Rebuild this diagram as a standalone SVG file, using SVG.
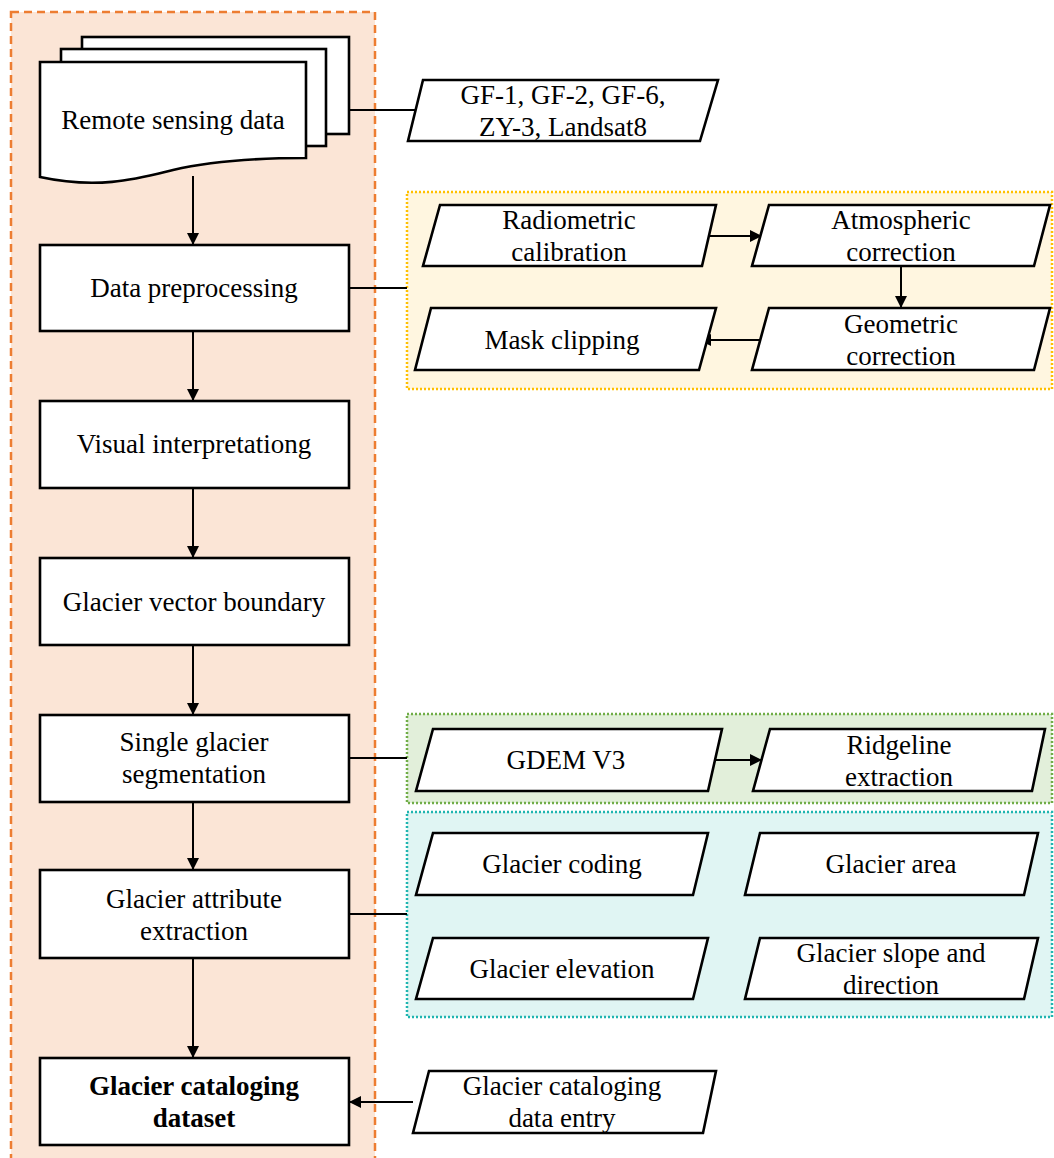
<svg xmlns="http://www.w3.org/2000/svg" width="1054" height="1158" viewBox="0 0 1054 1158">
<style>
.t{font-family:"Liberation Serif","Times New Roman",serif;font-size:27px;fill:#000;text-anchor:middle}
.b{font-weight:bold}
.box{fill:#fff;stroke:#000;stroke-width:2.6}
.ln{fill:none;stroke:#000;stroke-width:2}
</style>
<defs>
<marker id="ah" viewBox="0 0 10 10" refX="10" refY="5" markerWidth="6" markerHeight="6" orient="auto" markerUnits="strokeWidth">
<path d="M0,0 L10,5 L0,10 z" fill="#000"/>
</marker>
</defs>
<g id="containers">
<rect x="11" y="12" width="364" height="1160" fill="#FBE5D6" stroke="#ED7D31" stroke-width="2.5" stroke-dasharray="8,5"/>
<rect x="407" y="192" width="645" height="197" fill="#FFF6E0" stroke="#FFC000" stroke-width="2.5" stroke-dasharray="2,2"/>
<rect x="407" y="714" width="645" height="89" fill="#E2EFDA" stroke="#70AD47" stroke-width="2.5" stroke-dasharray="2,2"/>
<rect x="407" y="812" width="645" height="205" fill="#E0F5F3" stroke="#1FB5B0" stroke-width="2.5" stroke-dasharray="2,2"/>
</g>
<g id="connectors">
<line class="ln" x1="349" y1="110" x2="416" y2="110"/>
<line class="ln" x1="193" y1="176" x2="193" y2="245" marker-end="url(#ah)"/>
<line class="ln" x1="349" y1="288" x2="407" y2="288"/>
<line class="ln" x1="193" y1="331" x2="193" y2="401" marker-end="url(#ah)"/>
<line class="ln" x1="193" y1="488" x2="193" y2="558" marker-end="url(#ah)"/>
<line class="ln" x1="193" y1="645" x2="193" y2="715" marker-end="url(#ah)"/>
<line class="ln" x1="193" y1="802" x2="193" y2="870" marker-end="url(#ah)"/>
<line class="ln" x1="193" y1="958" x2="193" y2="1058" marker-end="url(#ah)"/>
<line class="ln" x1="349" y1="758" x2="407" y2="758"/>
<line class="ln" x1="349" y1="914" x2="407" y2="914"/>
<line class="ln" x1="707" y1="236" x2="762" y2="236" marker-end="url(#ah)"/>
<line class="ln" x1="901" y1="266" x2="901" y2="308" marker-end="url(#ah)"/>
<line class="ln" x1="760" y1="340" x2="699" y2="340" marker-end="url(#ah)"/>
<line class="ln" x1="715" y1="760" x2="762" y2="760" marker-end="url(#ah)"/>
<line class="ln" x1="413" y1="1102" x2="349" y2="1102" marker-end="url(#ah)"/>
</g>
<g id="remote-sensing-data">
<rect class="box" x="82" y="37" width="267" height="97"/>
<rect class="box" x="61" y="49" width="265" height="97"/>
<path class="box" d="M40,62 L306,62 L306,158 C260,158 215,160 173,170 C140,178 100,190 40,177 Z"/>
<text class="t" x="173" y="129">Remote sensing data</text>
</g>
<g id="gf-data">
<path class="box" d="M423,80 L718,80 L700,141 L408,141 Z"/>
<text class="t" x="563" y="104">GF-1, GF-2, GF-6,</text>
<text class="t" x="563" y="136">ZY-3, Landsat8</text>
</g>
<g id="data-preprocessing">
<rect class="box" x="40" y="245" width="309" height="86"/>
<text class="t" x="194" y="297">Data preprocessing</text>
</g>
<g id="visual-interpretationg">
<rect class="box" x="40" y="401" width="309" height="87"/>
<text class="t" x="194" y="453">Visual interpretationg</text>
</g>
<g id="glacier-vector-boundary">
<rect class="box" x="40" y="558" width="309" height="87"/>
<text class="t" x="194" y="611">Glacier vector boundary</text>
</g>
<g id="single-glacier-segmentation">
<rect class="box" x="40" y="715" width="309" height="87"/>
<text class="t" x="194" y="751">Single glacier</text>
<text class="t" x="194" y="783">segmentation</text>
</g>
<g id="glacier-attribute-extraction">
<rect class="box" x="40" y="870" width="309" height="88"/>
<text class="t" x="194" y="908">Glacier attribute</text>
<text class="t" x="194" y="940">extraction</text>
</g>
<g id="glacier-cataloging-dataset">
<rect class="box" x="40" y="1058" width="309" height="87"/>
<text class="t b" x="194" y="1095">Glacier cataloging</text>
<text class="t b" x="194" y="1127">dataset</text>
</g>
<g id="radiometric-calibration">
<path class="box" d="M440,205 L716,205 L702,266 L423,266 Z"/>
<text class="t" x="569" y="229">Radiometric</text>
<text class="t" x="569" y="261">calibration</text>
</g>
<g id="atmospheric-correction">
<path class="box" d="M769,205 L1050,205 L1034,266 L752,266 Z"/>
<text class="t" x="901" y="229">Atmospheric</text>
<text class="t" x="901" y="261">correction</text>
</g>
<g id="geometric-correction">
<path class="box" d="M769,308 L1050,308 L1034,370 L752,370 Z"/>
<text class="t" x="901" y="333">Geometric</text>
<text class="t" x="901" y="365">correction</text>
</g>
<g id="mask-clipping">
<path class="box" d="M431,308 L716,308 L699,370 L415,370 Z"/>
<text class="t" x="562" y="349">Mask clipping</text>
</g>
<g id="gdem-v3">
<path class="box" d="M433,729 L722,729 L708,791 L416,791 Z"/>
<text class="t" x="566" y="769">GDEM V3</text>
</g>
<g id="ridgeline-extraction">
<path class="box" d="M770,729 L1045,729 L1032,791 L753,791 Z"/>
<text class="t" x="899" y="754">Ridgeline</text>
<text class="t" x="899" y="786">extraction</text>
</g>
<g id="glacier-coding">
<path class="box" d="M433,833 L708,833 L693,895 L416,895 Z"/>
<text class="t" x="562" y="873">Glacier coding</text>
</g>
<g id="glacier-area">
<path class="box" d="M760,833 L1038,833 L1024,895 L745,895 Z"/>
<text class="t" x="891" y="873">Glacier area</text>
</g>
<g id="glacier-elevation">
<path class="box" d="M433,938 L708,938 L693,999 L416,999 Z"/>
<text class="t" x="562" y="978">Glacier elevation</text>
</g>
<g id="glacier-slope-direction">
<path class="box" d="M760,938 L1038,938 L1024,999 L745,999 Z"/>
<text class="t" x="891" y="962">Glacier slope and</text>
<text class="t" x="891" y="994">direction</text>
</g>
<g id="glacier-cataloging-data-entry">
<path class="box" d="M429,1071 L716,1071 L703,1133 L413,1133 Z"/>
<text class="t" x="562" y="1095">Glacier cataloging</text>
<text class="t" x="562" y="1127">data entry</text>
</g>
</svg>
